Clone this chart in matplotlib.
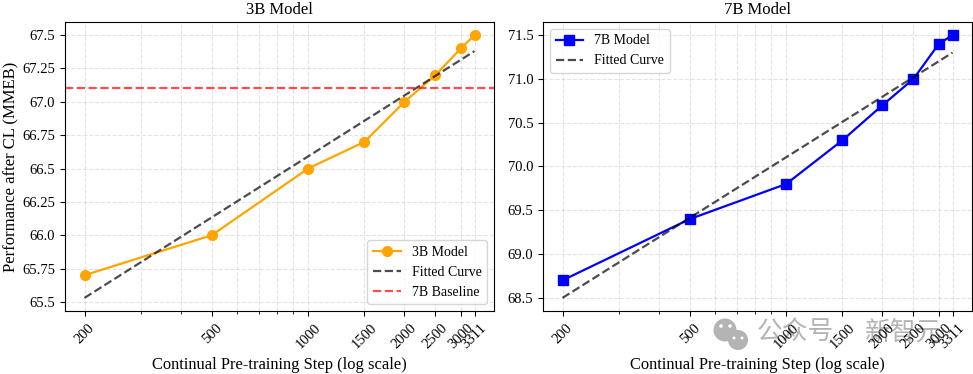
import matplotlib
matplotlib.use("Agg")
import matplotlib.pyplot as plt
from matplotlib.patches import Circle
from matplotlib.ticker import NullFormatter

plt.rcParams['font.family'] = ['Liberation Serif', 'Noto Sans CJK SC']

steps = [200, 500, 1000, 1500, 2000, 2500, 3000, 3311]
perf_3b = [65.7, 66.0, 66.5, 66.7, 67.0, 67.2, 67.4, 67.5]
perf_7b = [68.7, 69.4, 69.8, 70.3, 70.7, 71.0, 71.4, 71.5]
fit_steps = [200, 3311]
fit_3b = [65.53, 67.38]
fit_7b = [68.5, 71.3]
baseline_7b = 67.1
yticks_3b = [65.5, 65.75, 66.0, 66.25, 66.5, 66.75, 67.0, 67.25, 67.5]
ylabels_3b = ['65.5', '65.75', '66.0', '66.25', '66.5', '66.75', '67.0', '67.25', '67.5']
yticks_7b = [68.5, 69.0, 69.5, 70.0, 70.5, 71.0, 71.5]


def style_axes(ax, title):
    ax.set_xscale('log')
    ax.set_xticks(steps)
    ax.set_xticklabels([str(s) for s in steps], rotation=45, fontsize=10.5)
    ax.xaxis.set_minor_formatter(NullFormatter())
    ax.tick_params(axis='y', labelsize=10.5)
    ax.tick_params(axis='x', which='major', pad=4)
    ax.grid(True, which='major', ls='--', lw=0.8, color='#b0b0b0', alpha=0.35)
    ax.grid(True, which='minor', axis='x', ls='--', lw=0.8, color='#b0b0b0', alpha=0.35)
    ax.set_xlabel('Continual Pre-training Step (log scale)', fontsize=11.9, labelpad=4)
    ax.set_title(title, fontsize=12, pad=6)


fig = plt.figure(figsize=(9.73, 3.74), dpi=100)
ax1 = fig.add_axes([65 / 973, 1 - 311 / 374, 429 / 973, 289 / 374])
ax2 = fig.add_axes([543 / 973, 1 - 311 / 374, 429 / 973, 289 / 374])

ax1.plot(steps, perf_3b, color='orange', marker='o', ms=7, lw=1.6, label='3B Model')
ax1.plot(fit_steps, fit_3b, color='black', ls='--', lw=1.6, alpha=0.7, label='Fitted Curve')
ax1.axhline(baseline_7b, color='red', ls='--', lw=1.6, alpha=0.7, label='7B Baseline')
style_axes(ax1, '3B Model')
ax1.set_yticks(yticks_3b)
ax1.set_yticklabels(ylabels_3b)
ax1.set_ylabel('Performance after CL (MMEB)', fontsize=12, labelpad=2)
ax1.legend(loc='lower right', fontsize=10)

ax2.plot(steps, perf_7b, color='blue', marker='s', ms=6.5, lw=1.6, label='7B Model')
ax2.plot(fit_steps, fit_7b, color='black', ls='--', lw=1.6, alpha=0.7, label='Fitted Curve')
style_axes(ax2, '7B Model')
ax2.set_yticks(yticks_7b)
ax2.legend(loc='upper left', fontsize=10)

# watermark, drawn under the axes, positions in pixels
for cx, cy, r, col in [(725, 330, 11.5, '#b4b4b4'), (738, 340, 10, '#b4b4b4'),
                       (721, 326, 1.8, 'white'), (730, 326, 1.8, 'white'),
                       (734, 338, 1.5, 'white'), (742, 338, 1.5, 'white')]:
    fig.add_artist(Circle((cx, 374 - cy), r, transform=None, color=col, lw=0, zorder=-1))
fig.text(757 / 973, 1 - 333 / 374, '公众号', color='#b4b4b4', fontsize=18.5,
         family='Noto Sans CJK SC', va='center', zorder=-1)
fig.text(865 / 973, 1 - 333 / 374, '新智元', color='#b4b4b4', fontsize=18.5,
         family='Noto Sans CJK SC', va='center', zorder=-1)

fig.savefig('out.png', dpi=100)
